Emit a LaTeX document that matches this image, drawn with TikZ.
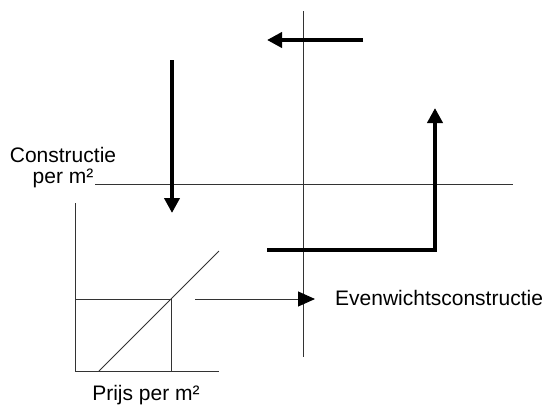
\documentclass[tikz,border=0pt]{standalone}
\usepackage{fontspec}
\setmainfont{Liberation Sans}
\usetikzlibrary{arrows.meta}
\begin{document}
\begin{tikzpicture}[x=1pt,y=-1pt,
  thin line/.style={line width=1pt,draw=black!80},
  thick arrow/.style={line width=4pt,draw=black,-{Triangle[length=15pt,width=15pt]}},
  thin arrow/.style={line width=1pt,draw=black!80,-{Triangle[length=17pt,width=15pt,color=black,fill=black]}},
  lbl/.style={font=\fontsize{21}{21}\selectfont,inner sep=0pt,anchor=base}]
\useasboundingbox[fill=white] (0,0) rectangle (547,405);
% axes of the cross
\coordinate (vt) at (303,11);
\coordinate (vb) at (303,357);
\coordinate (hl) at (95,184);
\coordinate (hr) at (513,184);
\draw[thin line] (vt) -- (vb);
\draw[thin line] (hl) -- (hr);
% thick arrows
\coordinate (ta1) at (363,40);
\coordinate (ta2) at (267,40);
\draw[thick arrow] (ta1) -- (ta2);
\coordinate (da1) at (172,60);
\coordinate (da2) at (172,213);
\draw[thick arrow] (da1) -- (da2);
\coordinate (l1) at (267,250);
\coordinate (l2) at (435,250);
\coordinate (l3) at (435,108);
\draw[thick arrow,line join=miter] (l1) -- (l2) -- (l3);
% small graph
\coordinate (gt) at (75,203);
\coordinate (o) at (75,371);
\coordinate (gr) at (219,371);
\draw[thin line] (gt) -- (o) -- (gr);
\coordinate (p1) at (75,299);
\coordinate (p2) at (171,299);
\coordinate (p3) at (171,371);
\draw[thin line] (p1) -- (p2) -- (p3);
\coordinate (d1) at (99,371);
\coordinate (d2) at (219,251);
\draw[thin line] (d1) -- (d2);
\coordinate (a1) at (195,299);
\coordinate (a2) at (315,299);
\draw[thin arrow] (a1) -- (a2);
% labels
\node[lbl] (c1) at (63,162) {Constructie};
\node[lbl] (c2) at (63,183) {per m²};
\node[lbl] (px) at (146,400) {Prijs per m²};
\node[lbl,anchor=base west] (ev) at (335,305) {Evenwichtsconstructie};
\end{tikzpicture}
\end{document}
